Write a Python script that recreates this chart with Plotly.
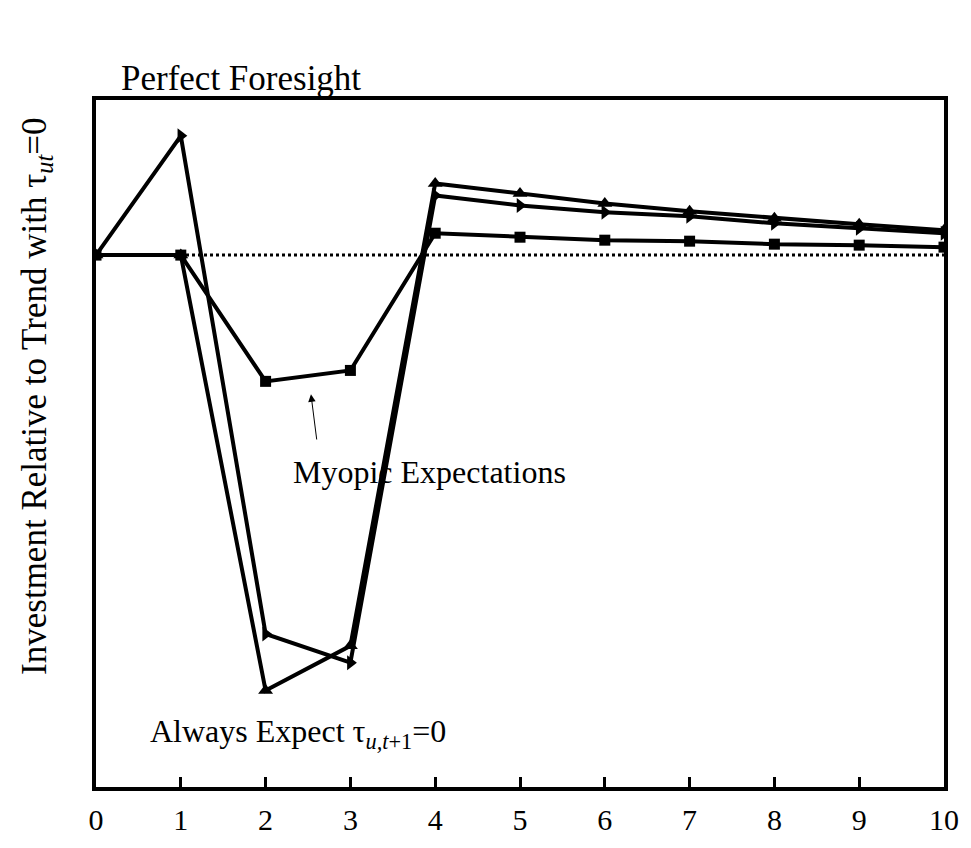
import plotly.graph_objects as go

periods = list(range(11))
tick_labels = [str(p) for p in periods]
perfect_foresight = [0, 1.20, -3.81, -4.10, 0.60, 0.50, 0.43, 0.39, 0.32, 0.27, 0.22]
always_expect = [0, 0, -4.38, -3.93, 0.72, 0.62, 0.52, 0.44, 0.37, 0.31, 0.25]
myopic = [0, 0, -1.27, -1.16, 0.22, 0.18, 0.15, 0.14, 0.11, 0.10, 0.08]

FONT = "Liberation Serif, Times New Roman, serif"

fig = go.Figure()
fig.add_shape(type="line", xref="paper", yref="y", x0=0, x1=1, y0=0, y1=0,
              line=dict(color="black", width=3, dash="dot"), layer="below")

fig.add_trace(go.Scatter(x=periods, y=myopic, mode="lines+markers", name="Myopic",
                         line=dict(color="black", width=4),
                         marker=dict(symbol="square", size=11, color="black")))
fig.add_trace(go.Scatter(x=periods, y=perfect_foresight, mode="lines+markers", name="Perfect Foresight",
                         line=dict(color="black", width=4),
                         marker=dict(symbol="triangle-right", size=13, color="black")))
fig.add_trace(go.Scatter(x=periods, y=always_expect, mode="lines+markers", name="Always Expect",
                         line=dict(color="black", width=4),
                         marker=dict(symbol="triangle-up", size=13, color="black")))

fig.add_annotation(x=0.27, y=1.032, xref="x", yref="paper", text="Perfect Foresight",
                   showarrow=False, xanchor="left", yanchor="middle",
                   font=dict(family=FONT, size=35, color="black"))
fig.add_annotation(x=2.30, y=-2.18, xref="x", yref="y", text="Myopic Expectations",
                   showarrow=False, xanchor="left", yanchor="middle",
                   font=dict(family=FONT, size=32, color="black"))
fig.add_annotation(x=0.61, y=-4.81, xref="x", yref="y",
                   text="Always Expect τ<sub><i>u,t</i>+1</sub>=0",
                   showarrow=False, xanchor="left", yanchor="middle",
                   font=dict(family=FONT, size=32, color="black"))
fig.add_annotation(x=2.535, y=-1.40, ax=2.605, ay=-1.87, xref="x", yref="y",
                   axref="x", ayref="y", text="", showarrow=True,
                   arrowhead=2, arrowsize=1.5, arrowwidth=1, arrowcolor="black")
fig.add_annotation(x=-0.071, y=0.569, xref="paper", yref="paper",
                   text="Investment Relative to Trend with τ<sub><i>ut</i></sub>=0",
                   textangle=-90, showarrow=False, xanchor="center", yanchor="middle",
                   font=dict(family=FONT, size=35, color="black"))

fig.update_layout(
    width=963, height=840,
    margin=dict(l=88, r=16, t=92, b=57),
    paper_bgcolor="white", plot_bgcolor="white",
    showlegend=False,
    font=dict(family=FONT, size=30, color="black"),
)
fig.update_xaxes(range=[0, 10], tickvals=periods, ticktext=tick_labels,
                 ticks="inside", ticklen=10, tickwidth=3, tickcolor="black",
                 showline=True, linewidth=4, linecolor="black", mirror=True,
                 showgrid=False, zeroline=False, ticklabelstandoff=3,
                 tickfont=dict(family=FONT, size=30, color="black"))
fig.update_yaxes(range=[-5.35, 1.56], showticklabels=False, ticks="",
                 showline=True, linewidth=4, linecolor="black", mirror=True,
                 showgrid=False, zeroline=False)

fig.write_html("out.html")
